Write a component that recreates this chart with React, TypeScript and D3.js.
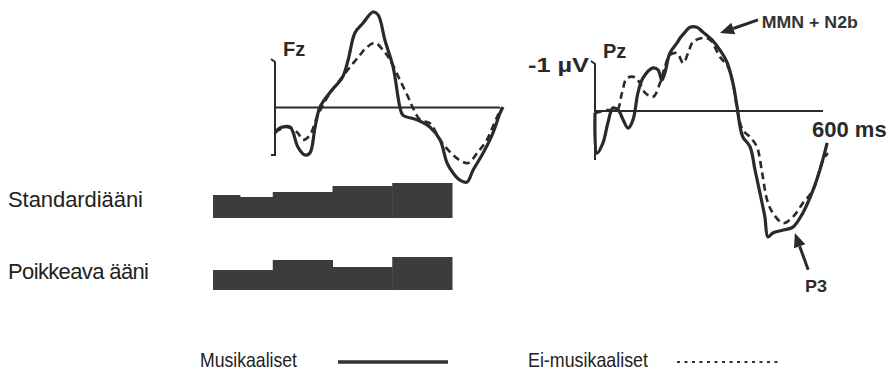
import * as d3 from "d3";
import { useEffect, useRef } from "react";

type Pt = [number, number];

// ERP waveforms as [ms, µV], negative drawn up
const fzMusical: Pt[] = [
  [0, 0.54], [13, 0.43], [40, 0.41], [48, 0.52], [61, 0.83], [80, 1.0], [93, 0.96],
  [107, 0.41], [120, -0.01], [152, -0.37], [179, -0.62], [195, -1.0], [213, -1.57],
  [235, -1.78], [261, -2.01], [275, -1.95], [293, -1.42], [315, -0.85], [333, -0.01],
  [341, 0.16], [379, 0.26], [413, 0.41], [440, 0.68], [459, 1.17], [475, 1.38],
  [493, 1.53], [512, 1.57], [528, 1.32], [555, 0.96], [581, 0.54], [600, 0.12], [608, -0.01],
];

const fzNonMusical: Pt[] = [
  [0, 0.52], [32, 0.41], [59, 0.52], [75, 0.68], [93, 0.58], [112, 0.2], [125, -0.01],
  [147, -0.31], [173, -0.58], [200, -0.85], [227, -1.11], [245, -1.27], [267, -1.36],
  [288, -1.21], [307, -1.0], [333, -0.58], [355, -0.22], [368, 0.01], [387, 0.26],
  [413, 0.33], [440, 0.68], [467, 0.94], [493, 1.11], [515, 1.17], [539, 0.96],
  [565, 0.68], [592, 0.2], [605, 0.01],
];

const pzMusical: Pt[] = [
  [0, 0.04], [5, 0.86], [21, 0.65], [34, 0.24], [47, -0.06], [61, -0.02], [74, 0.18],
  [87, 0.35], [100, 0.18], [113, -0.37], [126, -0.67], [153, -0.88], [166, -0.84],
  [176, -0.63], [184, -0.78], [197, -1.18], [216, -1.39], [224, -1.49], [237, -1.61],
  [250, -1.71], [268, -1.71], [284, -1.61], [308, -1.45], [329, -1.24], [347, -1.0],
  [363, -0.57], [374, -0.08], [382, 0.33], [389, 0.53], [408, 0.73], [421, 1.2],
  [434, 1.67], [447, 2.16], [455, 2.57], [468, 2.49], [495, 2.43], [521, 2.37],
  [547, 2.08], [574, 1.61], [592, 1.2], [611, 0.65],
];

const pzNonMusical: Pt[] = [
  [0, 0.04], [32, -0.02], [58, -0.02], [71, -0.37], [84, -0.67], [105, -0.69],
  [118, -0.57], [132, -0.37], [153, -0.29], [171, -0.57], [184, -0.9], [197, -1.14],
  [216, -1.18], [232, -0.98], [245, -1.18], [258, -1.41], [284, -1.49], [303, -1.45],
  [329, -1.1], [350, -0.9], [363, -0.57], [376, 0.04], [389, 0.39], [408, 0.53],
  [426, 0.73], [440, 1.27], [453, 1.82], [468, 2.08], [495, 2.29], [521, 2.16],
  [547, 1.88], [574, 1.61], [600, 1.0], [613, 0.86],
];

// tone sequences: segment boundaries and pitch level of each segment
const toneBounds = [0, 0.45, 1, 2, 3, 4];
const standardPitch = [2.3, 2.1, 2.6, 3.2, 3.5];
const deviantPitch = [2.0, 2.0, 3.0, 2.3, 3.3];
const rowLabels = ["Standardiääni", "Poikkeava ääni"];
const legendLabels = ["Musikaaliset", "Ei-musikaaliset"];

export default function App() {
  const ref = useRef<SVGSVGElement>(null);

  useEffect(() => {
    const svg = d3.select(ref.current);
    svg.selectAll("*").remove();
    const ink = "#2a2a2a";
    const font = "'Liberation Sans', Arial, sans-serif";

    const panels = [
      {
        name: "Fz",
        x: d3.scaleLinear().domain([0, 600]).range([275, 500]),
        y: d3.scaleLinear().domain([-1, 1]).range([60, 155]),
        solid: fzMusical,
        dashed: fzNonMusical,
        bottomTick: true,
      },
      {
        name: "Pz",
        x: d3.scaleLinear().domain([0, 600]).range([595, 823]),
        y: d3.scaleLinear().domain([-1, 1]).range([62, 160]),
        solid: pzMusical,
        dashed: pzNonMusical,
        bottomTick: false,
      },
    ];

    panels.forEach((p) => {
      const g = svg.append("g");
      const x0 = p.x(0);
      g.append("line")
        .attr("x1", x0)
        .attr("x2", p.x(600))
        .attr("y1", p.y(0))
        .attr("y2", p.y(0))
        .attr("stroke", ink)
        .attr("stroke-width", 2);
      g.append("path")
        .attr(
          "d",
          `M${x0 - 4},${p.y(-1) - 1}L${x0},${p.y(-1) + 2}V${p.y(1)}` +
            (p.bottomTick ? `H${x0 - 4}` : "")
        )
        .attr("fill", "none")
        .attr("stroke", ink)
        .attr("stroke-width", 2);

      const line = d3
        .line<Pt>()
        .x((d) => p.x(d[0]))
        .y((d) => p.y(d[1]))
        .curve(d3.curveCatmullRom);

      g.append("path")
        .datum(p.dashed)
        .attr("d", line)
        .attr("fill", "none")
        .attr("stroke", ink)
        .attr("stroke-width", 2.6)
        .attr("stroke-dasharray", "7 4.5");
      g.append("path")
        .datum(p.solid)
        .attr("d", line)
        .attr("fill", "none")
        .attr("stroke", ink)
        .attr("stroke-width", 3.2)
        .attr("stroke-linejoin", "round");

      g.append("text")
        .attr("x", x0 + 8)
        .attr("y", p.y(-1) - 4)
        .attr("font-family", font)
        .attr("font-weight", "bold")
        .attr("font-size", 20)
        .attr("fill", ink)
        .text(p.name);
    });

    const pz = panels[1];
    svg
      .append("text")
      .attr("x", pz.x(0) - 6)
      .attr("y", pz.y(-1) + 10)
      .attr("text-anchor", "end")
      .attr("font-family", font)
      .attr("font-weight", "bold")
      .attr("font-size", 20)
      .attr("textLength", 61)
      .attr("lengthAdjust", "spacingAndGlyphs")
      .attr("fill", ink)
      .text("-1 µV");
    svg
      .append("text")
      .attr("x", pz.x(600) - 11)
      .attr("y", pz.y(0) + 26)
      .attr("font-family", font)
      .attr("font-weight", "bold")
      .attr("font-size", 22)
      .attr("fill", ink)
      .text("600 ms");

    // annotation arrows
    const arrow = (tail: Pt, tip: Pt) => {
      const [ax, ay] = [pz.x(tail[0]), pz.y(tail[1])];
      const [bx, by] = [pz.x(tip[0]), pz.y(tip[1])];
      const len = Math.hypot(bx - ax, by - ay);
      const ux = (bx - ax) / len;
      const uy = (by - ay) / len;
      const hx = bx - ux * 14;
      const hy = by - uy * 14;
      svg
        .append("line")
        .attr("x1", ax)
        .attr("y1", ay)
        .attr("x2", hx)
        .attr("y2", hy)
        .attr("stroke", ink)
        .attr("stroke-width", 3);
      svg
        .append("path")
        .attr(
          "d",
          `M${bx},${by}L${hx - uy * 6},${hy + ux * 6}L${hx + uy * 6},${hy - ux * 6}Z`
        )
        .attr("fill", ink);
    };
    arrow([429, -1.86], [329, -1.59]);
    arrow([561, 3.24], [526, 2.49]);

    svg
      .append("text")
      .attr("x", pz.x(439))
      .attr("y", 28)
      .attr("font-family", font)
      .attr("font-weight", "bold")
      .attr("font-size", 16)
      .attr("textLength", 96)
      .attr("lengthAdjust", "spacingAndGlyphs")
      .attr("fill", "#333")
      .text("MMN + N2b");
    svg
      .append("text")
      .attr("x", pz.x(553))
      .attr("y", 292)
      .attr("font-family", font)
      .attr("font-weight", "bold")
      .attr("font-size", 17)
      .attr("textLength", 22)
      .attr("lengthAdjust", "spacingAndGlyphs")
      .attr("fill", ink)
      .text("P3");

    // tone sequence bars
    const tx = d3.scaleLinear().domain([0, 4]).range([213, 452]);
    const ph = d3.scaleLinear().domain([0, 1]).range([0, 10]);
    const rows = [
      { levels: standardPitch, base: 218, label: rowLabels[0], len: 135 },
      { levels: deviantPitch, base: 290, label: rowLabels[1], len: 141 },
    ];
    rows.forEach((r) => {
      svg
        .append("g")
        .selectAll()
        .data(r.levels)
        .join("rect")
        .attr("x", (_, i) => tx(toneBounds[i]))
        .attr("width", (_, i) => tx(toneBounds[i + 1]) - tx(toneBounds[i]) + 0.5)
        .attr("y", (d) => r.base - ph(d))
        .attr("height", (d) => ph(d))
        .attr("fill", "#3c3c3c");
      svg
        .append("text")
        .attr("x", 8)
        .attr("y", r.base - 11)
        .attr("font-family", font)
        .attr("font-size", 22)
        .attr("textLength", r.len)
        .attr("fill", "#222")
        .text(r.label);
    });

    // legend
    const legend = [
      { label: legendLabels[0], x: 200, len: 97, x1: 338, x2: 448, dash: null, w: 3.5 },
      { label: legendLabels[1], x: 528, len: 120, x1: 677, x2: 778, dash: "3 4.5", w: 2 },
    ];
    legend.forEach((l) => {
      svg
        .append("text")
        .attr("x", l.x)
        .attr("y", 367)
        .attr("font-family", font)
        .attr("font-size", 21)
        .attr("textLength", l.len)
        .attr("lengthAdjust", "spacingAndGlyphs")
        .attr("fill", "#222")
        .text(l.label);
      svg
        .append("line")
        .attr("x1", l.x1)
        .attr("x2", l.x2)
        .attr("y1", 362)
        .attr("y2", 362)
        .attr("stroke", "#333")
        .attr("stroke-width", l.w)
        .attr("stroke-dasharray", l.dash);
    });
  }, []);

  return (
    <svg
      ref={ref}
      width={893}
      height={371}
      style={{ position: "absolute", left: 0, top: 0, background: "#fff" }}
    />
  );
}
